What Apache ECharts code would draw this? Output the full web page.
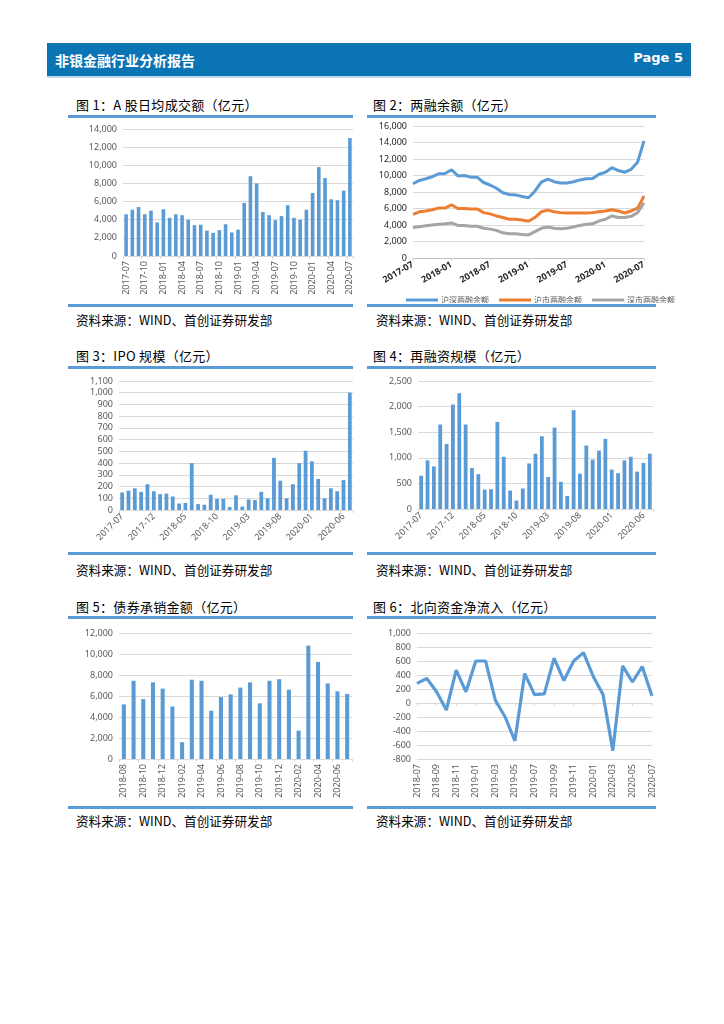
<!DOCTYPE html>
<html><head><meta charset="utf-8">
<script src="https://cdn.jsdelivr.net/npm/echarts@6/dist/echarts.min.js"></script>
<style>
html,body{margin:0;padding:0;background:#fff;width:724px;height:1024px;overflow:hidden;font-family:"Noto Sans CJK SC","Noto Sans",sans-serif;}
#header{position:absolute;left:47px;top:43px;width:644px;height:33px;background:#0a74b4;border-bottom:2px solid #bcd9ee;}
#header .t{position:absolute;left:8px;top:7px;color:#fff;font-size:14px;font-weight:bold;}
#header .p{position:absolute;right:8px;top:7px;color:#fff;font-size:13px;font-weight:bold;font-family:"DejaVu Sans",sans-serif;}
.title{position:absolute;font-size:13px;letter-spacing:0.3px;color:#000;white-space:nowrap;}
.line{position:absolute;height:3px;background:#5b9bd5;}
.src{position:absolute;font-size:12.6px;color:#000;white-space:nowrap;}
.ch{position:absolute;}
</style></head><body>
<div id="header"><div class="t">非银金融行业分析报告</div><div class="p">Page 5</div></div>

<div class="title" style="left:76px;top:95px">图 1：A 股日均成交额（亿元）</div>
<div class="line" style="left:68px;top:115px;width:285px"></div>
<div class="line" style="left:68px;top:304px;width:285px"></div>
<div class="src" style="left:76px;top:310px">资料来源：WIND、首创证券研发部</div>

<div class="title" style="left:373px;top:95px">图 2：两融余额（亿元）</div>
<div class="line" style="left:367px;top:115px;width:289px"></div>
<div class="line" style="left:367px;top:304px;width:289px"></div>
<div class="src" style="left:376px;top:310px">资料来源：WIND、首创证券研发部</div>

<div class="title" style="left:76px;top:346px">图 3：IPO 规模（亿元）</div>
<div class="line" style="left:68px;top:366px;width:285px"></div>
<div class="line" style="left:68px;top:552px;width:285px"></div>
<div class="src" style="left:76px;top:560px">资料来源：WIND、首创证券研发部</div>

<div class="title" style="left:373px;top:346px">图 4：再融资规模（亿元）</div>
<div class="line" style="left:367px;top:366px;width:289px"></div>
<div class="line" style="left:367px;top:552px;width:289px"></div>
<div class="src" style="left:376px;top:560px">资料来源：WIND、首创证券研发部</div>

<div class="title" style="left:76px;top:597px">图 5：债券承销金额（亿元）</div>
<div class="line" style="left:68px;top:616px;width:285px"></div>
<div class="line" style="left:68px;top:806px;width:285px"></div>
<div class="src" style="left:76px;top:811px">资料来源：WIND、首创证券研发部</div>

<div class="title" style="left:373px;top:597px">图 6：北向资金净流入（亿元）</div>
<div class="line" style="left:367px;top:616px;width:289px"></div>
<div class="line" style="left:367px;top:806px;width:289px"></div>
<div class="src" style="left:376px;top:811px">资料来源：WIND、首创证券研发部</div>

<div id="c1" class="ch" style="left:60px;top:120px;width:300px;height:182px"></div>
<div id="c2" class="ch" style="left:365px;top:120px;width:330px;height:183px"></div>
<div id="c3" class="ch" style="left:60px;top:370px;width:300px;height:180px"></div>
<div id="c4" class="ch" style="left:365px;top:370px;width:330px;height:180px"></div>
<div id="c5" class="ch" style="left:60px;top:620px;width:300px;height:185px"></div>
<div id="c6" class="ch" style="left:365px;top:620px;width:330px;height:185px"></div>

<script>
// ---------- data ----------
const months_1707_2007 = ["2017-07","2017-08","2017-09","2017-10","2017-11","2017-12","2018-01","2018-02","2018-03","2018-04","2018-05","2018-06","2018-07","2018-08","2018-09","2018-10","2018-11","2018-12","2019-01","2019-02","2019-03","2019-04","2019-05","2019-06","2019-07","2019-08","2019-09","2019-10","2019-11","2019-12","2020-01","2020-02","2020-03","2020-04","2020-05","2020-06","2020-07"];
const turnover = [4600,5100,5400,4600,5000,3700,5150,4200,4600,4500,4000,3400,3450,2800,2550,2850,3500,2600,2900,5850,8800,8000,4850,4500,3950,4400,5600,4200,4000,5100,6950,9800,8600,6250,6150,7200,13000];
const marginTotal = [9000,9400,9600,9850,10200,10250,10700,9950,10000,9800,9800,9150,8850,8450,7900,7700,7650,7450,7300,8100,9200,9550,9250,9100,9100,9250,9450,9600,9650,10150,10400,10950,10600,10400,10750,11600,14200];
const marginSH = [5300,5600,5700,5850,6050,6050,6450,6000,6000,5950,5950,5500,5350,5100,4900,4700,4700,4600,4450,4900,5600,5800,5600,5500,5450,5450,5450,5450,5500,5600,5700,5850,5700,5450,5700,6050,7500];
const marginSZ = [3700,3800,3900,4000,4100,4150,4250,3950,3950,3850,3850,3600,3500,3350,3050,2950,2950,2850,2800,3200,3600,3750,3600,3550,3600,3750,3950,4100,4150,4500,4700,5100,4900,4900,5050,5500,6700];
const marginNames = ["沪深两融余额","沪市两融余额","深市两融余额"];
const ipo = [150,165,185,155,220,160,135,140,115,55,60,400,50,45,130,95,95,25,125,30,90,85,155,100,445,250,100,220,400,505,415,265,100,185,160,255,1000];
const refinance = [650,950,830,1650,1270,2040,2260,1650,800,680,380,385,1700,1020,360,165,400,890,1080,1420,625,1590,530,255,1930,690,1240,965,1140,1370,770,700,950,1020,730,900,1080];
const months_1808_2007 = ["2018-08","2018-09","2018-10","2018-11","2018-12","2019-01","2019-02","2019-03","2019-04","2019-05","2019-06","2019-07","2019-08","2019-09","2019-10","2019-11","2019-12","2020-01","2020-02","2020-03","2020-04","2020-05","2020-06","2020-07"];
const bondUW = [5200,7450,5700,7300,6700,5000,1600,7550,7450,4600,5900,6150,6800,7300,5300,7450,7600,6600,2700,10800,9250,7200,6450,6200];
const months_1807_2007 = ["2018-07","2018-08","2018-09","2018-10","2018-11","2018-12","2019-01","2019-02","2019-03","2019-04","2019-05","2019-06","2019-07","2019-08","2019-09","2019-10","2019-11","2019-12","2020-01","2020-02","2020-03","2020-04","2020-05","2020-06","2020-07"];
const northbound = [280,350,160,-100,470,160,600,600,40,-200,-540,420,120,130,640,320,600,720,380,120,-680,530,300,520,100];

// ---------- styles ----------
const BLUE = '#5b9bd5', ORANGE = '#ed7d31', GRAY = '#a5a5a5';
const FONT = '"Noto Sans", sans-serif';
const fmt = v => Number(v).toLocaleString('en-US');
const gridLine = {show:true, lineStyle:{color:'#d9d9d9', width:1}};
function yAxis(min,max,interval,extra){
  return Object.assign({type:'value', min, max, interval,
    axisLine:{show:false}, axisTick:{show:false}, splitLine:gridLine,
    axisLabel:{color:'#595959', fontSize:9, fontFamily:FONT, formatter:fmt, margin:6}}, extra||{});
}
function xAxis(data, interval, rotate, extra){
  return Object.assign({type:'category', data,
    axisLine:{lineStyle:{color:'#d9d9d9'}},
    axisTick:{show:true, interval:interval, length:3, lineStyle:{color:'#d9d9d9'}},
    axisLabel:{interval:interval, rotate:rotate, color:'#595959', fontSize:9, fontFamily:FONT, margin:5},
    splitLine:{show:false}}, extra||{});
}
function mk(id){ return echarts.init(document.getElementById(id), null, {renderer:'canvas'}); }

// Chart 1
mk('c1').setOption({animation:false,
  grid:{left:63, top:9, width:230, height:127},
  xAxis:xAxis(months_1707_2007, 2, 90),
  yAxis:yAxis(0,14000,2000),
  series:[{type:'bar', data:turnover, barWidth:'58%', itemStyle:{color:BLUE}}]
});

// Chart 2
mk('c2').setOption({animation:false,
  grid:{left:48, top:6, width:231, height:132},
  legend:{left:36, top:171, itemWidth:32, itemHeight:3, icon:'rect', itemGap:10,
    textStyle:{fontSize:8, color:'#595959', fontFamily:'"Noto Sans CJK SC", sans-serif', padding:[0,0,0,-2]},
    data:marginNames},
  xAxis:xAxis(months_1707_2007, 5, 30, {boundaryGap:false,
    axisLabel:{interval:5, rotate:30, color:'#262626', fontSize:9, fontWeight:'bold', fontFamily:FONT, margin:6},
    axisLine:{lineStyle:{color:'#bfbfbf'}}}),
  yAxis:yAxis(0,16000,2000,{axisLabel:{color:'#262626', fontSize:9, fontFamily:FONT, formatter:fmt, margin:6}}),
  series:[
    {name:marginNames[0], type:'line', data:marginTotal, symbol:'none', lineStyle:{color:BLUE, width:3}, itemStyle:{color:BLUE}},
    {name:marginNames[1], type:'line', data:marginSH, symbol:'none', lineStyle:{color:ORANGE, width:3}, itemStyle:{color:ORANGE}},
    {name:marginNames[2], type:'line', data:marginSZ, symbol:'none', lineStyle:{color:GRAY, width:3}, itemStyle:{color:GRAY}}
  ]
});

// Chart 3
mk('c3').setOption({animation:false,
  grid:{left:59, top:11, width:234, height:129},
  xAxis:xAxis(months_1707_2007, 4, 45),
  yAxis:yAxis(0,1100,100),
  series:[{type:'bar', data:ipo, barWidth:'60%', itemStyle:{color:BLUE}}]
});

// Chart 4
mk('c4').setOption({animation:false,
  grid:{left:53, top:11, width:235, height:128},
  xAxis:xAxis(months_1707_2007, 4, 45),
  yAxis:yAxis(0,2500,500),
  series:[{type:'bar', data:refinance, barWidth:'60%', itemStyle:{color:BLUE}}]
});

// Chart 5
mk('c5').setOption({animation:false,
  grid:{left:59, top:13, width:233, height:126},
  xAxis:xAxis(months_1808_2007, 1, 90),
  yAxis:yAxis(0,12000,2000),
  series:[{type:'bar', data:bondUW, barWidth:'42%', itemStyle:{color:BLUE}}]
});

// Chart 6
mk('c6').setOption({animation:false,
  grid:{left:52, top:13, width:235, height:126},
  xAxis:xAxis(months_1807_2007, 1, 90, {boundaryGap:false}),
  yAxis:yAxis(-800,1000,200),
  series:[{type:'line', data:northbound, symbol:'none', lineStyle:{color:BLUE, width:3.2}}]
});
</script>
</body></html>
